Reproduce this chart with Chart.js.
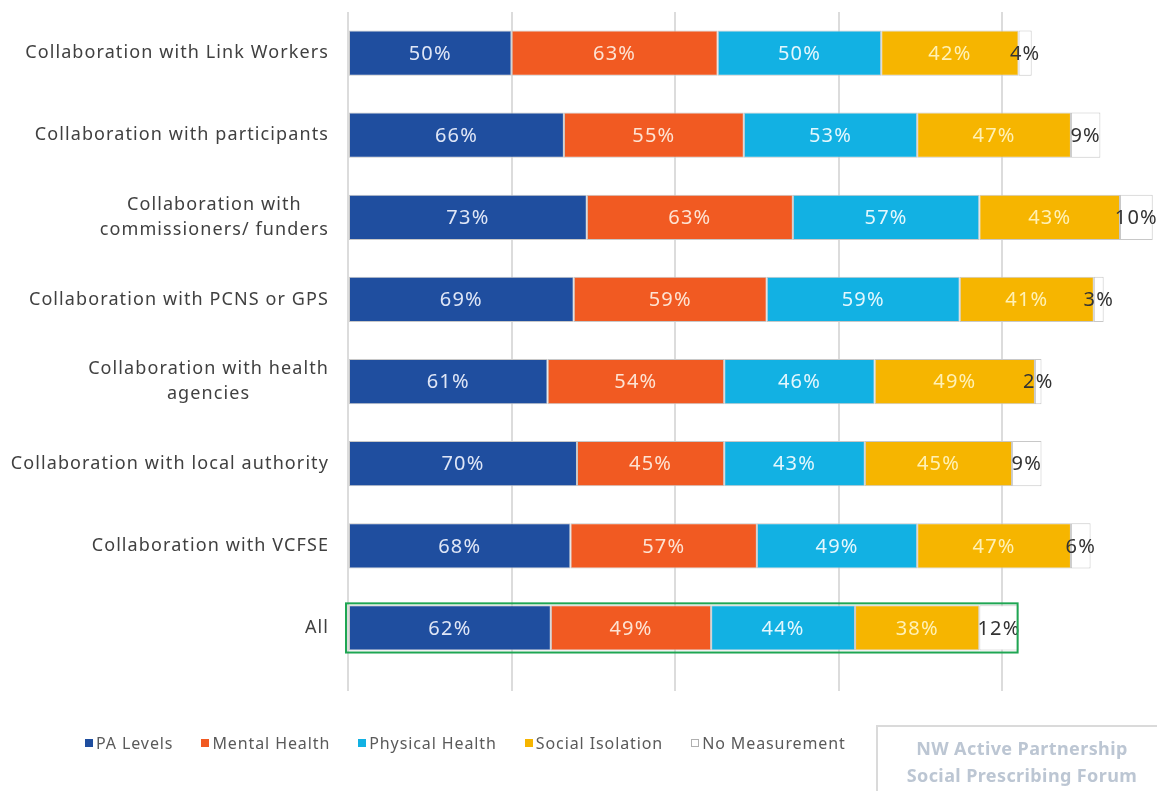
<!DOCTYPE html>
<html>
<head>
<meta charset="utf-8">
<script src="https://cdn.jsdelivr.net/npm/chart.js@4.4.1/dist/chart.umd.min.js"></script>
<style>
  body { margin: 0; background: #fff; overflow: hidden; font-family: "Noto Sans", sans-serif; }
  #wrap { position: relative; width: 1157px; height: 791px; }
  #legend { position: absolute; left: 85px; top: 732px; display: flex; gap: 28px; font-size: 16px; letter-spacing: 0.9px; color: #5a5a5a; }
  #legend span.item { display: flex; align-items: center; }
  #legend i { display: inline-block; width: 8px; height: 8px; margin-right: 3px; box-sizing: border-box; }
  #stamp { position: absolute; left: 876px; top: 725px; width: 292px; height: 80px; border: 2px solid #dadada;
           box-sizing: border-box; text-align: center; color: #bcc6d3; font-weight: bold; font-size: 18px;
           letter-spacing: 0.4px; line-height: 27px; padding-top: 8px; }
</style>
</head>
<body>
<div id="wrap">
  <canvas id="chart" width="1157" height="791"></canvas>
  <div id="legend"></div>
  <div id="stamp">NW Active Partnership<br>Social Prescribing Forum</div>
</div>
<script>
var categories = [
  'Collaboration with Link Workers',
  'Collaboration with participants',
  ['Collaboration with', 'commissioners/ funders'],
  'Collaboration with PCNS or GPS',
  ['Collaboration with health', 'agencies'],
  'Collaboration with local authority',
  'Collaboration with VCFSE',
  'All'
];
var seriesNames = ['PA Levels', 'Mental Health', 'Physical Health', 'Social Isolation', 'No Measurement'];
var paLevels        = [50, 66, 73, 69, 61, 70, 68, 62];
var mentalHealth    = [63, 55, 63, 59, 54, 45, 57, 49];
var physicalHealth  = [50, 53, 57, 59, 46, 43, 49, 44];
var socialIsolation = [42, 47, 43, 41, 49, 45, 47, 38];
var noMeasurement   = [4, 9, 10, 3, 2, 9, 6, 12];

var barColors = ['#1f4e9f', '#f15a22', '#12b1e3', '#f6b500', '#ffffff'];
var labelColors = ['#dfe6f6', '#fde3d3', '#e3f7fd', '#fff1b5', '#333333'];
var highlightRow = 7; // "All"

// values on the bars, the left labels and the box round "All"
var barText = {
  id: 'barText',
  afterDatasetsDraw: function(chart) {
    var ctx = chart.ctx;
    ctx.save();
    ctx.font = '20px "Noto Sans"';
    ctx.letterSpacing = '1.2px';
    ctx.textAlign = 'center';
    ctx.textBaseline = 'middle';
    chart.data.datasets.forEach(function(ds, i) {
      chart.getDatasetMeta(i).data.forEach(function(bar, j) {
        var p = bar.getProps(['x', 'y', 'base'], true);
        ctx.fillStyle = labelColors[i];
        ctx.fillText(ds.data[j] + '%', (p.x + p.base) / 2, p.y + 1);
      });
    });

    // category labels: right aligned block, lines centred inside it
    var y = chart.scales.y;
    ctx.font = '18px "Noto Sans"';
    ctx.letterSpacing = '1.1px';
    ctx.fillStyle = '#404040';
    var right = chart.chartArea.left - 19;
    categories.forEach(function(lab, j) {
      var lines = Array.isArray(lab) ? lab : [lab];
      var w = Math.max.apply(null, lines.map(function(l) { return ctx.measureText(l).width; }));
      var cy = y.getPixelForValue(j);
      var lh = 25;
      lines.forEach(function(l, k) {
        ctx.fillText(l, right - w / 2, cy + (k - (lines.length - 1) / 2) * lh);
      });
    });

    // green frame
    var last = chart.getDatasetMeta(chart.data.datasets.length - 1).data[highlightRow];
    var p = last.getProps(['x', 'y', 'height'], true);
    var x0 = chart.scales.x.getPixelForValue(0);
    ctx.strokeStyle = '#1fa653';
    ctx.lineWidth = 2;
    ctx.strokeRect(x0 - 2, p.y - p.height / 2 - 2, p.x - x0 + 1, p.height + 4);
    ctx.restore();
  }
};

var seriesData = [paLevels, mentalHealth, physicalHealth, socialIsolation, noMeasurement];

var chart = new Chart(document.getElementById('chart'), {
  type: 'bar',
  data: {
    labels: categories,
    datasets: seriesNames.map(function(name, i) {
      return {
        label: name,
        data: seriesData[i],
        backgroundColor: barColors[i],
        borderColor: '#c8c8c8',
        borderWidth: 1,
        borderSkipped: false,
        barPercentage: 0.55,
        categoryPercentage: 1
      };
    })
  },
  options: {
    indexAxis: 'y',
    responsive: false,
    animation: false,
    layout: { padding: { top: 12, bottom: 100, left: 0, right: 1 } },
    scales: {
      x: {
        stacked: true,
        min: 0,
        max: 247,
        ticks: { display: false, stepSize: 50 },
        border: { display: false },
        grid: {
          tickLength: 22,
          lineWidth: 2,
          color: function(c) { return c.tick && c.tick.value % 50 === 0 ? '#dcdcdc' : 'rgba(0,0,0,0)'; }
        }
      },
      y: {
        stacked: true,
        ticks: { display: false },
        grid: { display: false },
        border: { display: false },
        afterFit: function(scale) { scale.width = 348; }
      }
    },
    plugins: {
      legend: { display: false },
      tooltip: { enabled: false }
    }
  },
  plugins: [barText]
});

// legend from the datasets
var leg = document.getElementById('legend');
seriesNames.forEach(function(name, i) {
  var s = document.createElement('span');
  s.className = 'item';
  var box = document.createElement('i');
  box.style.background = barColors[i];
  if (i === 4) box.style.border = '1px solid #b0b0b0';
  s.appendChild(box);
  s.appendChild(document.createTextNode(name));
  leg.appendChild(s);
});
</script>
</body>
</html>
